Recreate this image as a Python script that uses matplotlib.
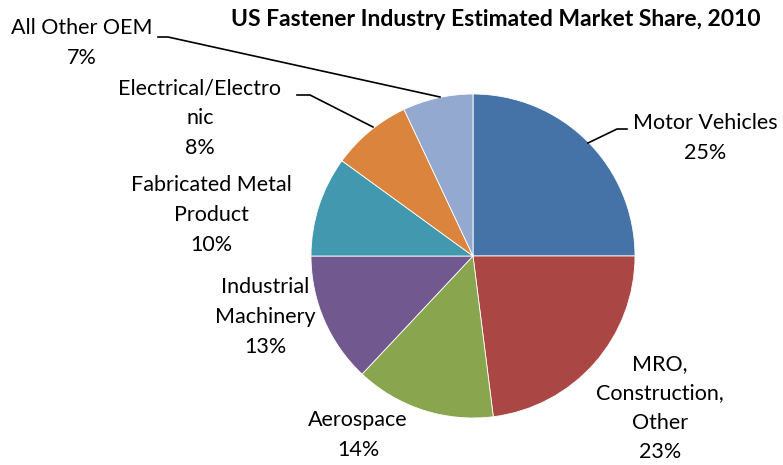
import matplotlib
matplotlib.use("Agg")
import matplotlib.pyplot as plt

# market share by end-use segment, 2010 (percent)
segments = ["Motor Vehicles", "MRO, Construction, Other", "Aerospace",
            "Industrial Machinery", "Fabricated Metal Product",
            "Electrical/Electronic", "All Other OEM"]
shares = [25, 23, 14, 13, 10, 8, 7]
# wrapped label text as it appears next to each slice
label_text = ["Motor Vehicles", "MRO,\nConstruction,\nOther", "Aerospace",
              "Industrial\nMachinery", "Fabricated Metal\nProduct",
              "Electrical/Electro\nnic", "All Other OEM"]
colors = ["#4572A7", "#AA4643", "#89A54E", "#71588F", "#4198AF", "#DB843D", "#93A9CF"]

plt.rcParams["font.family"] = ["Lato", "DejaVu Sans"]

W, H = 783, 465
fig = plt.figure(figsize=(W / 100, H / 100), dpi=100)
ax = fig.add_axes([0, 0, 1, 1])

cx, cy, r = 473, H - 256, 162
wedges, _ = ax.pie(shares, colors=colors, startangle=90, counterclock=False,
                   center=(cx, cy), radius=r, frame=True,
                   wedgeprops=dict(edgecolor="white", linewidth=0.6))
ax.set_xlim(0, W)
ax.set_ylim(0, H)
ax.set_aspect("equal")
ax.axis("off")

# label anchor points (centre of text block) in pixel units, y from top
label_pos = [(705, 138), (660, 408), (358, 435), (265, 317),
             (211, 215), (200, 118), (82, 43)]
for text, pct, (x, y) in zip(label_text, shares, label_pos):
    ax.text(x, H - y, f"{text}\n{pct}%", ha="center", va="center",
            fontsize=15.5, linespacing=1.6, color="black")

# leader lines for the labels that sit away from their slices
leaders = [
    [(627, 129), (617, 129), (588, 143)],
    [(297, 95), (310, 95), (373, 127)],
    [(158, 37), (168, 37), (440, 97)],
]
for pts in leaders:
    xs = [p[0] for p in pts]
    ys = [H - p[1] for p in pts]
    ax.plot(xs, ys, color="black", linewidth=1.2)

fig.text(496 / W, 1 - 20 / H, "US Fastener Industry Estimated Market Share, 2010",
         ha="center", va="center", fontsize=16.5, fontweight="bold")

fig.savefig("out.png", dpi=100)
